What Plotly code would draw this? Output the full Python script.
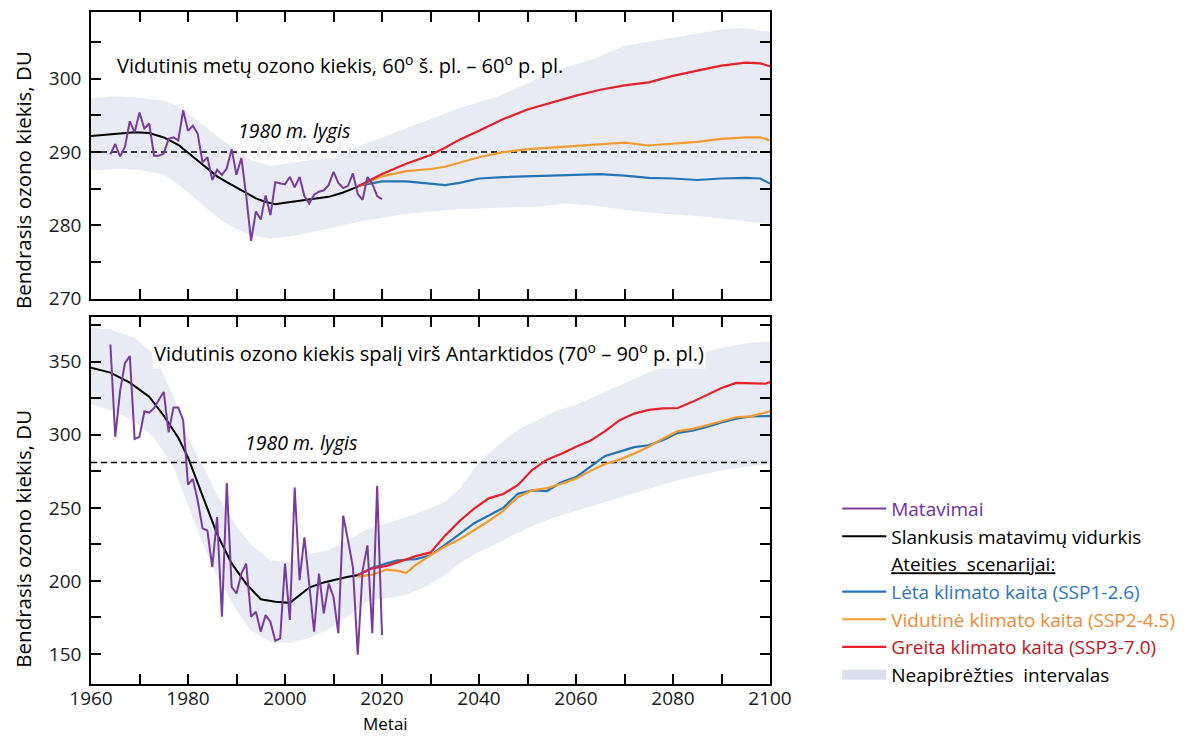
import plotly.graph_objects as go

# ---------------- data ----------------
obs_years = list(range(1964, 2021))
top_obs = [289.7, 291.1, 289.4, 290.7, 294.2, 292.7, 295.4, 293.2, 293.9, 289.5,
           289.5, 289.8, 291.8, 292.0, 291.6, 295.7, 292.9, 293.6, 292.5, 288.6,
           289.3, 286.2, 287.6, 286.9, 287.8, 290.4, 286.9, 289.2, 284.1, 277.9,
           281.9, 280.8, 284.1, 281.4, 285.9, 285.7, 285.6, 286.6, 285.2, 286.6,
           284.0, 283.0, 284.2, 284.6, 284.8, 285.5, 287.3, 285.8, 285.1, 285.4,
           287.1, 284.3, 283.5, 286.6, 285.7, 284.0, 283.6]
bot_obs = [361.8, 298.6, 330.0, 349.0, 353.8, 297.1, 298.6, 315.9, 315.2, 318.2,
           324.0, 329.3, 301.6, 318.6, 318.6, 310.0, 265.9, 269.8, 255.0, 236.0,
           234.5, 209.5, 243.6, 175.5, 267.0, 195.9, 191.4, 205.0, 211.8, 175.5,
           178.9, 165.2, 176.6, 172.0, 159.1, 160.7, 211.8, 173.3, 263.9, 200.5,
           229.9, 196.0, 165.3, 205.0, 177.8, 198.2, 189.0, 164.2, 244.7, 227.7,
           209.5, 149.5, 207.3, 224.3, 164.2, 265.1, 163.0]

top_mean_years = [1960, 1963, 1966, 1969, 1972, 1975, 1978, 1980, 1982, 1984, 1986, 1988,
                  1990, 1992, 1994, 1996, 1998, 2000, 2003, 2006, 2009, 2012, 2015]
top_mean = [292.2, 292.4, 292.6, 292.7, 292.6, 292.0, 291.0, 289.9, 288.8, 287.7, 286.7, 285.9,
            285.2, 284.4, 283.7, 283.2, 282.9, 283.1, 283.4, 283.6, 283.9, 284.5, 285.3]
bot_mean_years = [1960, 1964, 1968, 1972, 1975, 1978, 1980, 1983, 1986, 1989, 1992, 1995,
                  1998, 2001, 2003, 2005, 2008, 2011, 2013, 2015]
bot_mean = [345.9, 342.5, 335.7, 326.0, 313.0, 298.0, 284.5, 258.0, 232.0, 212.0, 198.0, 187.5,
            185.7, 185.0, 190.0, 195.5, 199.0, 201.5, 202.8, 203.9]

top_scen_years = [2015, 2020, 2025, 2030, 2033, 2036, 2040, 2045, 2050, 2055, 2060, 2065,
                  2070, 2075, 2080, 2085, 2090, 2095, 2098, 2100]
top_ssp126 = [285.4, 286.0, 286.0, 285.7, 285.5, 285.8, 286.4, 286.6, 286.7, 286.8, 286.9, 287.0,
              286.8, 286.5, 286.4, 286.2, 286.4, 286.5, 286.4, 285.7]
top_ssp245 = [285.3, 286.7, 287.4, 287.7, 288.0, 288.6, 289.3, 290.0, 290.4, 290.6, 290.8, 291.0,
              291.3, 290.9, 291.1, 291.4, 291.8, 292.0, 292.0, 291.6]
top_ssp370 = [285.3, 287.0, 288.4, 289.6, 290.6, 291.7, 292.9, 294.5, 295.8, 296.8, 297.7, 298.5,
              299.1, 299.5, 300.4, 301.1, 301.8, 302.2, 302.1, 301.7]

bot_scen_years = [2015, 2018, 2021, 2023, 2025, 2027, 2030, 2033, 2036, 2039, 2042, 2045, 2048,
                  2051, 2054, 2057, 2060, 2063, 2066, 2069, 2072, 2075, 2078, 2081, 2084, 2087,
                  2090, 2093, 2096, 2099, 2100]
bot_ssp126 = [204.0, 209.0, 212.0, 214.0, 214.5, 214.9, 217.5, 224.5, 232.0, 239.5, 244.5, 250.0,
              259.6, 262.0, 261.5, 267.5, 271.0, 278.0, 285.5, 288.5, 291.5, 292.8, 296.5, 301.3,
              302.8, 305.3, 308.5, 311.0, 312.5, 312.7, 312.8]
bot_ssp245 = [203.0, 204.3, 207.8, 207.0, 205.5, 211.0, 217.5, 223.5, 228.5, 234.5, 241.0, 248.0,
              257.3, 262.0, 263.5, 266.5, 270.0, 275.3, 280.0, 283.0, 287.0, 291.8, 297.5, 302.5,
              304.0, 306.5, 309.5, 312.0, 312.6, 315.0, 316.1]
bot_ssp370 = [204.0, 208.6, 210.3, 212.5, 214.5, 217.0, 219.5, 231.0, 241.0, 249.5, 256.5, 259.5,
              265.5, 276.0, 283.0, 287.0, 291.8, 296.0, 302.5, 310.0, 314.5, 317.0, 318.1, 318.3,
              322.5, 327.5, 332.0, 335.5, 335.3, 334.9, 336.0]

top_band_years = [1960, 1965, 1970, 1975, 1978, 1981, 1984, 1987, 1990, 1993, 1997, 2001, 2005,
                  2010, 2016, 2020, 2024, 2030, 2036, 2044, 2052, 2058, 2064, 2070, 2078, 2085,
                  2091, 2095, 2100]
top_band_low = [287.5, 287.7, 287.6, 286.9, 285.6, 283.9, 282.3, 280.6, 279.5, 278.7, 278.2, 278.5,
                279.0, 279.7, 280.6, 281.0, 281.5, 281.9, 282.2, 282.4, 282.6, 283.0, 282.7, 282.1,
                281.6, 281.3, 280.9, 280.6, 280.2]
top_band_high = [297.3, 297.6, 297.4, 297.0, 296.3, 294.8, 293.2, 291.8, 290.2, 288.9, 288.1, 288.5,
                 288.9, 289.2, 291.0, 292.0, 293.0, 294.6, 296.0, 297.6, 300.0, 301.6, 302.8, 304.5,
                 305.4, 306.2, 306.8, 306.9, 306.4]

bot_band_years = [1960, 1964, 1969, 1973, 1977, 1980, 1983, 1986, 1990, 1993, 1997, 2001, 2005,
                  2009, 2013, 2017, 2021, 2025, 2029, 2033, 2036, 2040, 2044, 2048, 2052, 2056,
                  2060, 2065, 2070, 2075, 2080, 2085, 2090, 2095, 2100]
bot_band_low = [320.9, 317.0, 309.5, 298.0, 278.0, 252.0, 226.0, 203.0, 180.0, 166.0, 158.4, 157.5,
                161.0, 167.0, 176.0, 186.0, 188.5, 190.5, 196.0, 204.0, 212.0, 220.0, 226.0, 233.0,
                239.0, 244.0, 248.0, 253.0, 258.0, 263.0, 268.0, 272.0, 275.5, 278.0, 280.0]
bot_band_high = [373.2, 372.0, 366.4, 355.0, 326.0, 298.2, 279.0, 259.0, 237.5, 225.0, 214.0, 213.0,
                 218.6, 221.0, 228.0, 235.5, 239.5, 243.6, 248.5, 254.0, 263.0, 281.0, 293.0, 303.5,
                 310.0, 316.5, 320.5, 328.0, 335.5, 343.0, 350.0, 355.0, 359.5, 362.5, 364.0]

ref_years = [1960, 2100]
top_1980_level = 290.0
bot_1980_level = 281.0

x_tick_vals = [1960, 1980, 2000, 2020, 2040, 2060, 2080, 2100]
x_tick_text = ["1960", "1980", "2000", "2020", "2040", "2060", "2080", "2100"]
top_y_vals = [270, 280, 290, 300]
top_y_text = ["270", "280", "290", "300"]
bot_y_vals = [150, 200, 250, 300, 350]
bot_y_text = ["150", "200", "250", "300", "350"]

# ---------------- styles ----------------
PURPLE = "#7A3C9C"
BLUE = "#2474B8"
ORANGE = "#F59B2E"
RED = "#E8202A"
BAND = "#E8EBF4"
FONT = "Open Sans"

fig = go.Figure()


def band(xs, lo, hi, xa, ya):
    fig.add_trace(go.Scatter(x=xs, y=lo, mode="lines", line=dict(width=0, color=BAND),
                             xaxis=xa, yaxis=ya, showlegend=False, hoverinfo="skip"))
    fig.add_trace(go.Scatter(x=xs, y=hi, mode="lines", line=dict(width=0, color=BAND),
                             fill="tonexty", fillcolor=BAND, xaxis=xa, yaxis=ya,
                             showlegend=False, hoverinfo="skip"))


band(top_band_years, top_band_low, top_band_high, "x", "y")
band(bot_band_years, bot_band_low, bot_band_high, "x2", "y2")

for xa, ya, lvl in (("x", "y", top_1980_level), ("x2", "y2", bot_1980_level)):
    fig.add_trace(go.Scatter(x=ref_years, y=[lvl, lvl], mode="lines",
                             line=dict(color="black", width=1.5, dash="6px,4px"),
                             xaxis=xa, yaxis=ya, showlegend=False, hoverinfo="skip"))

scen = [
    ("Lėta klimato kaita (SSP1-2.6)", BLUE, "#2E75B6", top_ssp126, bot_ssp126, 4),
    ("Vidutinė klimato kaita (SSP2-4.5)", ORANGE, "#ED8B36", top_ssp245, bot_ssp245, 5),
    ("Greita klimato kaita (SSP3-7.0)", RED, "#C0141C", top_ssp370, bot_ssp370, 6),
]
for name, col, tcol, ty, by, rank in scen:
    fig.add_trace(go.Scatter(x=top_scen_years, y=ty, mode="lines", line=dict(color=col, width=2.2),
                             xaxis="x", yaxis="y", showlegend=False))
    fig.add_trace(go.Scatter(x=bot_scen_years, y=by, mode="lines", line=dict(color=col, width=2.2),
                             xaxis="x2", yaxis="y2",
                             name=f"<span style='color:{tcol}'>{name}</span>", legendrank=rank))

# legend-only entries: header and uncertainty key
fig.add_trace(go.Scatter(x=[None], y=[None], mode="lines", line=dict(color="rgba(0,0,0,0)"),
                         xaxis="x2", yaxis="y2", name="<u>Ateities&nbsp; scenarijai:</u>", legendrank=3))
fig.add_trace(go.Scatter(x=[None], y=[None], mode="lines", line=dict(color="#DCDFEE", width=15),
                         xaxis="x2", yaxis="y2", name="Neapibrėžties&nbsp; intervalas", legendrank=7))

fig.add_trace(go.Scatter(x=top_mean_years, y=top_mean, mode="lines", line=dict(color="black", width=2),
                         xaxis="x", yaxis="y", showlegend=False))
fig.add_trace(go.Scatter(x=bot_mean_years, y=bot_mean, mode="lines", line=dict(color="black", width=2),
                         xaxis="x2", yaxis="y2", name="Slankusis matavimų vidurkis", legendrank=2))
fig.add_trace(go.Scatter(x=obs_years, y=top_obs, mode="lines", line=dict(color=PURPLE, width=2),
                         xaxis="x", yaxis="y", showlegend=False))
fig.add_trace(go.Scatter(x=obs_years, y=bot_obs, mode="lines", line=dict(color=PURPLE, width=2),
                         xaxis="x2", yaxis="y2",
                         name="<span style='color:#7030A0'>Matavimai</span>", legendrank=1))


def minor(step, start):
    return dict(dtick=step, tick0=start, ticks="inside", ticklen=10, tickwidth=1.5,
                tickcolor="black", showgrid=False)


axis_common = dict(showline=True, linecolor="black", linewidth=1.5, mirror="ticks",
                   ticks="inside", ticklen=10, tickwidth=1.5, tickcolor="black",
                   showgrid=False, zeroline=False,
                   tickfont=dict(family=FONT, size=19, color="#1a1a1a"))

# The page body adds an 8px offset; the figure is sized so that it fills the 1192x736 window.
fig.update_layout(
    width=1184, height=728,
    margin=dict(l=83, r=422, t=2, b=52),
    paper_bgcolor="white", plot_bgcolor="white",
    font=dict(family=FONT, size=19, color="black"),
    xaxis=dict(domain=[0, 1], anchor="y", range=[1960, 2100], tickmode="array",
               tickvals=x_tick_vals, showticklabels=False, minor=minor(10, 1960), **axis_common),
    yaxis=dict(domain=[0.5732, 1], anchor="x", range=[270, 309.1], tickmode="array",
               tickvals=top_y_vals, ticktext=top_y_text, ticklabelstandoff=4,
               minor=minor(5, 270), **axis_common),
    xaxis2=dict(domain=[0, 1], anchor="y2", range=[1960, 2100], tickmode="array",
                tickvals=x_tick_vals, ticktext=x_tick_text, ticklabelstandoff=-4,
                minor=minor(10, 1960), **axis_common),
    yaxis2=dict(domain=[0, 0.546], anchor="x2", range=[129.5, 380.5], tickmode="array",
                tickvals=bot_y_vals, ticktext=bot_y_text, ticklabelstandoff=4,
                minor=minor(25, 150), **axis_common),
    legend=dict(x=1.099, y=0.2893, xanchor="left", yanchor="top", bgcolor="rgba(0,0,0,0)",
                font=dict(family=FONT, size=19, color="black"), traceorder="normal",
                itemwidth=44, tracegroupgap=0),
    showlegend=True,
)

annots = [
    dict(text="Vidutinis metų ozono kiekis, 60<sup>o</sup> š. pl. – 60<sup>o</sup> p. pl.",
         xref="paper", yref="paper", x=0.366, y=0.9466, showarrow=False,
         font=dict(family=FONT, size=20)),
    dict(text="Vidutinis ozono kiekis spalį virš Antarktidos (70<sup>o</sup> – 90<sup>o</sup> p. pl.)",
         xref="paper", yref="paper", x=0.498, y=0.4926, showarrow=False, bgcolor="white",
         font=dict(family=FONT, size=20)),
    dict(text="<i>1980 m. lygis</i>", xref="x", yref="y", x=2001.8, y=292.95, showarrow=False,
         font=dict(family=FONT, size=19.5)),
    dict(text="<i>1980 m. lygis</i>", xref="x2", yref="y2", x=2003.3, y=294.6, showarrow=False,
         font=dict(family=FONT, size=19.5)),
    dict(text="Metai", xref="paper", yref="paper", x=0.433, y=-0.0401, showarrow=False,
         yanchor="top", borderpad=0, font=dict(family=FONT, size=17)),
    dict(text="Bendrasis ozono kiekis, DU", xref="paper", yref="paper", x=-0.1002, y=0.75,
         textangle=-90, showarrow=False, xanchor="center", yanchor="middle",
         font=dict(family=FONT, size=20.5)),
    dict(text="Bendrasis ozono kiekis, DU", xref="paper", yref="paper", x=-0.1002, y=0.2162,
         textangle=-90, showarrow=False, xanchor="center", yanchor="middle",
         font=dict(family=FONT, size=20.5)),
]
fig.update_layout(annotations=annots)

fig.write_html("out.html")
